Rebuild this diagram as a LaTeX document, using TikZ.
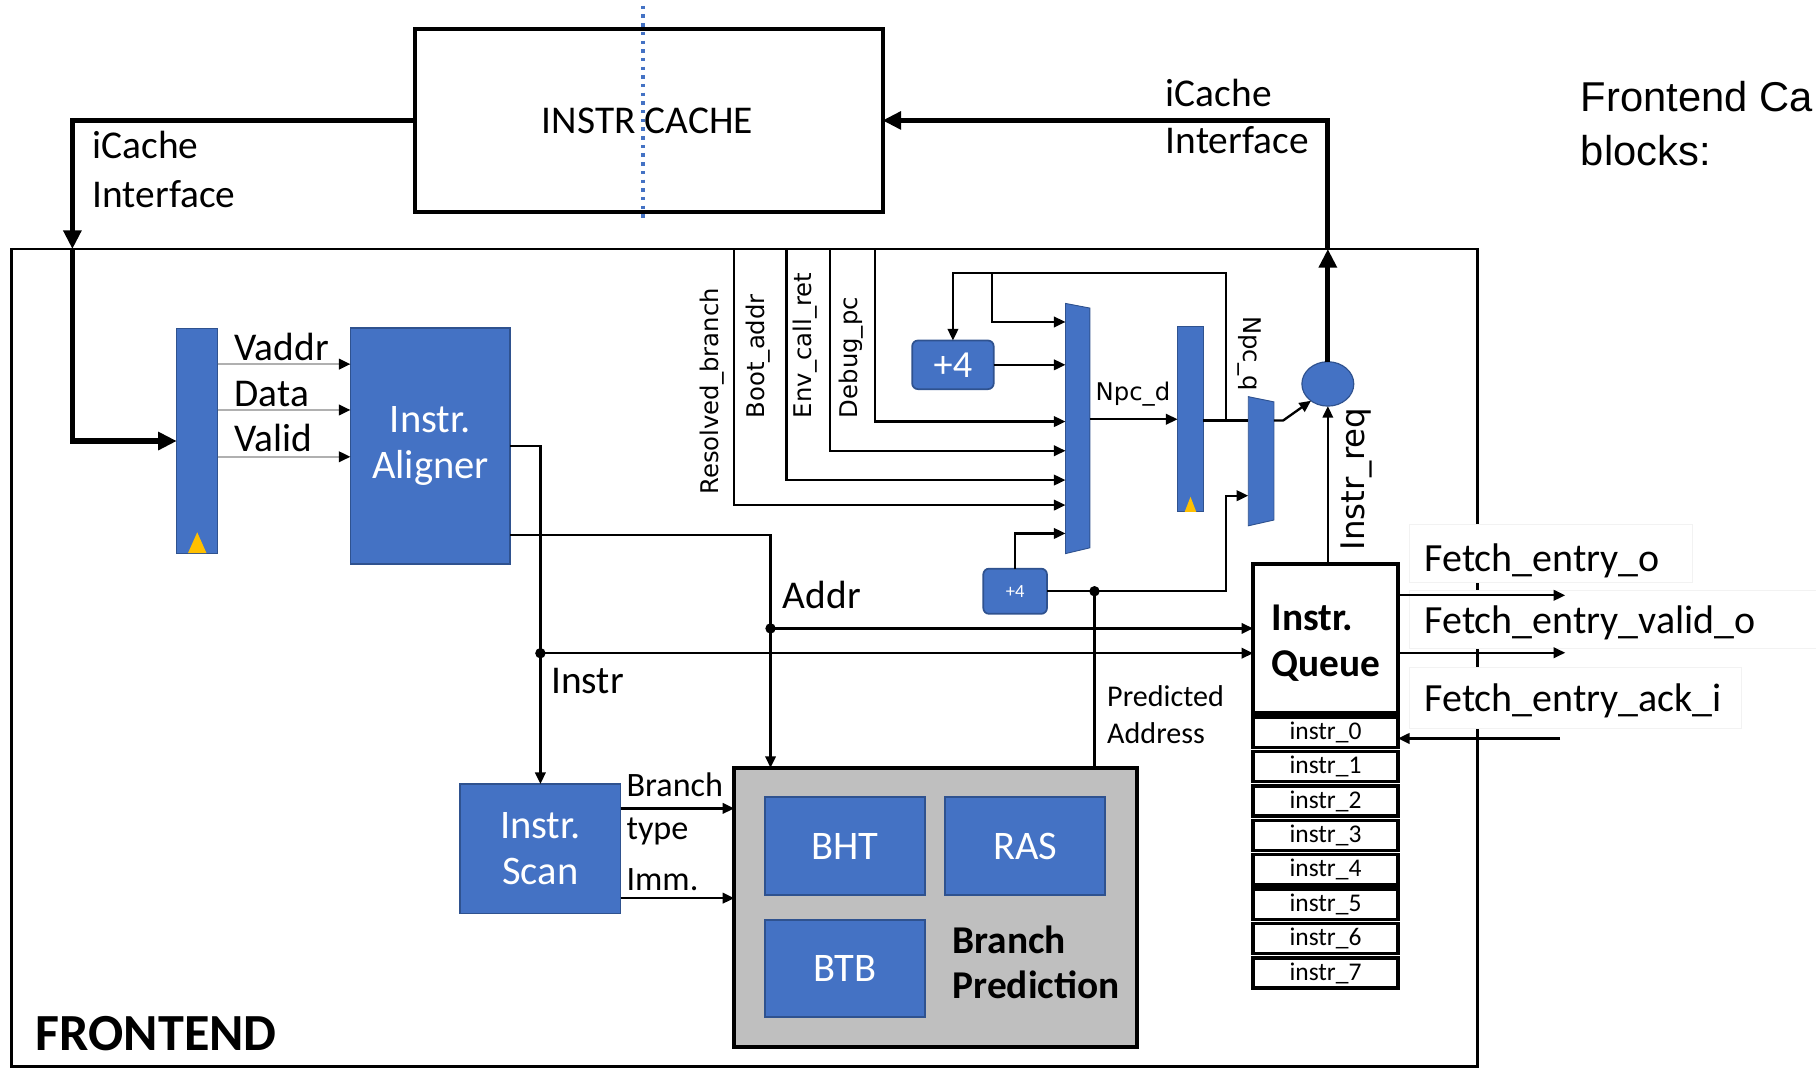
\documentclass[tikz,border=0pt]{standalone}
\usepackage{fontspec}
\setmainfont{Carlito}
\newfontfamily\dvsans{DejaVu Sans}
\newfontfamily\arsans{Liberation Sans}
\usetikzlibrary{arrows.meta,shapes.geometric}
\newcommand\fsz[2]{\fontsize{#1}{#2}\selectfont}
\definecolor{blk}{HTML}{4472C4}
\definecolor{blkedge}{HTML}{2F528F}
\definecolor{clk}{HTML}{FFC000}
\definecolor{bpgray}{HTML}{BFBFBF}
\definecolor{wiregray}{HTML}{B0B0B0}

\begin{document}
\begin{tikzpicture}[x=1pt,y=-1pt,
  every node/.style={inner sep=0pt,outer sep=0pt},
  wire/.style={line width=2pt},
  arr/.style={wire,-{Triangle[length=10pt,width=9pt]}},
  greyarr/.style={line width=2pt,draw=wiregray,-{Triangle[length=10pt,width=9pt,color=black]}},
  bus/.style={line width=4.5pt,-{Triangle[length=16pt,width=15pt]}},
  bluebox/.style={draw=blkedge,line width=1.5pt,fill=blk,text=white,align=center,font=\fsz{35}{40}},
  regbar/.style={draw=blkedge,line width=1pt,fill=blk},
  muxbody/.style={fill=blk,draw=blkedge,line width=0.8pt},
  txt/.style={anchor=base west,font=\fsz{34}{40}},
  sig/.style={font=\dvsans\fsz{21}{24}},
  jdot/.style={circle,fill=black,minimum size=9pt},
  slot/.style={draw,line width=3pt,minimum width=125pt,minimum height=26pt,font=\fsz{22}{24}},
  tagbox/.style={fill=white,draw=black!5,line width=1pt,anchor=north west}
]
\useasboundingbox (0,0) rectangle (1568,925);

% ---------------- instruction cache ----------------
\node[draw,line width=3.5pt,minimum width=404pt,minimum height=158pt] (cache) at (560,104) {};
\node[anchor=base,font=\fsz{34}{40}] (cachelbl) at (559,115.5) {INSTR CACHE};
\coordinate (cutT) at (555,5);
\coordinate (cutB) at (555,192);
\draw[blk,line width=3pt,dash pattern=on 3pt off 4.5pt] (cutT) -- (cutB);

% side note
\node[anchor=base west,font=\arsans\fsz{36}{44}] (note1) at (1365,96.5) {Frontend Ca};
\node[anchor=base west,font=\arsans\fsz{36}{44}] (note2) at (1365,142.5) {blocks:};

% ---------------- frontend frame ----------------
\node[draw,line width=2.2pt,minimum width=1265.5pt,minimum height=706pt] (fe) at (642.75,568) {};
\node[anchor=base west,font=\bfseries\fsz{45}{50}] (felbl) at (31,906.7) {FRONTEND};

% output tags (white panels over the frame edge)
\node[tagbox,minimum width=244pt,minimum height=50pt] (tag1) at (1217,453) {};
\node[tagbox,minimum width=360pt,minimum height=50pt] (tag2) at (1217,510) {};
\node[tagbox,minimum width=287pt,minimum height=53pt] (tag3) at (1217,576) {};
\node[txt,font=\fsz{34.5}{40}] (fo) at (1230,493.6) {Fetch\_entry\_o};
\node[txt,font=\fsz{34.5}{40}] (fv) at (1230,547) {Fetch\_entry\_valid\_o};
\node[txt,font=\fsz{34.5}{40}] (fa) at (1230,614.6) {Fetch\_entry\_ack\_i};

% iCache interface labels
\node[txt] (ifl1) at (80,137) {iCache};
\node[txt] (ifl2) at (80,179) {Interface};
\node[txt] (ifr1) at (1006.7,92) {iCache};
\node[txt] (ifr2) at (1006.7,132.5) {Interface};

% ---------------- blocks ----------------
\node[regbar,minimum width=35.4pt,minimum height=193.6pt] (reg1) at (170.3,380.8) {};
\fill[clk] ([xshift=-8pt]reg1.south) -- ([yshift=18pt]reg1.south) -- ([xshift=8pt]reg1.south) -- cycle;

\node[bluebox,minimum width=138pt,minimum height=204pt] (aligner) at (371.6,385) {Instr.\\Aligner};
\node[bluebox,minimum width=138.4pt,minimum height=111.7pt] (scan) at (466.6,732.8) {Instr.\\Scan};

\node[draw,line width=3.5pt,fill=bpgray,minimum width=348pt,minimum height=241pt] (bp) at (808,783.5) {};
\node[bluebox,minimum width=138pt,minimum height=85pt] (bht) at (729.5,730.5) {BHT};
\node[bluebox,minimum width=138pt,minimum height=85pt] (ras) at (885.2,730.5) {RAS};
\node[bluebox,minimum width=138pt,minimum height=83.5pt] (btb) at (729.5,836.2) {BTB};
\node[anchor=base west,font=\bfseries\fsz{34}{40}] (bpl1) at (822.5,823) {Branch};
\node[anchor=base west,font=\bfseries\fsz{34}{40}] (bpl2) at (822.5,862) {Prediction};

\node[bluebox,rounded corners=5pt,minimum width=70.4pt,minimum height=42pt,font=\fsz{33}{36}] (plus4a) at (822.8,315) {+4};
\node[bluebox,rounded corners=5pt,minimum width=55pt,minimum height=39pt,font=\fsz{16}{18}] (plus4b) at (876.5,510.5) {+4};

% next-pc multiplexer
\node[minimum width=21pt,minimum height=216pt] (mux1) at (930.5,370) {};
\draw[muxbody] (mux1.north west) -- ([yshift=-4pt]mux1.north east) -- ([yshift=5pt]mux1.south east) -- (mux1.south west) -- cycle;

% pc register
\node[regbar,minimum width=22.3pt,minimum height=160pt] (reg2) at (1027.9,362) {};
\fill[clk] ([xshift=-5pt]reg2.south) -- ([yshift=13pt]reg2.south) -- ([xshift=5pt]reg2.south) -- cycle;

% request multiplexer
\node[minimum width=22.2pt,minimum height=111.5pt] (mux2) at (1088.9,398.25) {};
\draw[muxbody] (mux2.north west) -- ([yshift=-4.5pt]mux2.north east) -- ([yshift=5pt]mux2.south east) -- (mux2.south west) -- cycle;

\node[ellipse,regbar,minimum width=44.8pt,minimum height=38.3pt] (circ) at (1146.5,331.5) {};

% instruction queue
\node[draw,line width=3.5pt,minimum width=125pt,minimum height=128.5pt] (queue) at (1144.5,551) {};
\node[anchor=base west,font=\bfseries\fsz{34}{40}] (ql1) at (1098,544) {Instr.};
\node[anchor=base west,font=\bfseries\fsz{34}{40}] (ql2) at (1098,584) {Queue};
\foreach \k in {0,...,7}{
  \node[slot] (slot\k) at (1144.5,{632.2+29.7*\k}) {instr\_\k};
}

% ---------------- level coordinates ----------------
\coordinate (yV) at (0,314.4);
\coordinate (yD) at (0,354);
\coordinate (yVl) at (0,394.4);
\coordinate (yAo) at (0,462);
\coordinate (yBr) at (0,698);
\coordinate (yIm) at (0,775.5);
\coordinate (m1a) at (0,278);
\coordinate (m1dbg) at (0,364);
\coordinate (m1env) at (0,389.2);
\coordinate (m1boot) at (0,414.5);
\coordinate (m1res) at (0,436.1);
\coordinate (m1p4) at (0,460.6);

% ---------------- connectors ----------------
% left iCache interface
\coordinate (lin) at (62.5,215);
\draw[bus] (cache.west) -| (lin);
\draw[bus] (lin) |- (reg1.west);

% right iCache interface
\coordinate (rin) at (1146.5,215);
\draw[bus] (circ.north) -- (rin);
\draw[bus] (rin) |- (cache.east);

% register to aligner
\draw[greyarr] (reg1.east |- yV) -- (aligner.west |- yV);
\draw[greyarr] (reg1.east |- yD) -- (aligner.west |- yD);
\draw[greyarr] (reg1.east |- yVl) -- (aligner.west |- yVl);
\node[txt] (lv) at (202.7,311) {Vaddr};
\node[txt] (ld) at (202.7,351) {Data};
\node[txt] (lvl) at (202.7,390) {Valid};

% aligner outputs
\node[jdot] (jI) at (466.6,564) {};
\node[jdot] (jA) at (665.3,542.6) {};
\draw[arr] (aligner.east) -| (scan.north);
\draw[arr] (aligner.east |- yAo) -| (jA.center |- bp.north);
\draw[arr] (jA.center) -- (queue.west |- jA.center);
\draw[arr] (jI.center) -- (queue.west |- jI.center);
\node[txt] (laddr) at (676,525) {Addr};
\node[txt] (linstr) at (476,599) {Instr};

% scan to branch prediction
\draw[arr] (scan.east |- yBr) -- (bp.west |- yBr);
\draw[arr] (scan.east |- yIm) -- (bp.west |- yIm);
\node[txt,font=\fsz{29.5}{34}] (lbr) at (541,688) {Branch};
\node[txt,font=\fsz{29.5}{34}] (lty) at (541,725) {type};
\node[txt,font=\fsz{29.5}{34}] (lim) at (541,768.6) {Imm.};

% predicted address and sequential +4
\node[jdot] (jP) at (945,510.5) {};
\draw[wire] (jP.center |- bp.north) -- (jP.center);
\node[txt,font=\fsz{26}{31}] (lp1) at (956,610) {Predicted};
\node[txt,font=\fsz{26}{31}] (lp2) at (956,642) {Address};
\coordinate (k2) at (1058.7,428);
\draw[arr] (plus4b.east) -| (k2) -- (mux2.west |- k2);
\draw[arr] (plus4b.north) |- (mux1.west |- m1p4);

% external next-pc sources
\coordinate (sres) at (633.5,215);
\coordinate (sboot) at (679,215);
\coordinate (senv) at (716.8,215);
\coordinate (sdbg) at (755.6,215);
\draw[arr] (sres) |- (mux1.west |- m1res);
\draw[arr] (sboot) |- (mux1.west |- m1boot);
\draw[arr] (senv) |- (mux1.west |- m1env);
\draw[arr] (sdbg) |- (mux1.west |- m1dbg);
\node[sig,rotate=90,anchor=west] (lres) at (614.5,427) {Resolved\_branch};
\node[sig,rotate=90,anchor=west] (lboot) at (654.6,361) {Boot\_addr};
\node[sig,rotate=90,anchor=west] (lenv) at (695,361) {Env\_call\_ret};
\node[sig,rotate=90,anchor=west] (ldbg) at (735,361) {Debug\_pc};

% pc feedback loop
\coordinate (jL) at (1058.7,363);
\coordinate (lpB) at (856.7,236);
\draw[wire] (reg2.east |- jL) -- (mux2.west |- jL);
\draw[arr] (jL) -- (jL |- lpB) -| (plus4a.north);
\draw[arr] (lpB) |- (mux1.west |- m1a);
\draw[arr] (plus4a.east) -- (mux1.west |- plus4a.east);

% mux to register
\draw[arr] (mux1.east |- reg2.west) -- (reg2.west);
\node[sig,anchor=west] (lnpcd) at (946,340) {Npc\_d};
\node[sig,rotate=-90,anchor=west] (lnpcq) at (1079,273) {Npc\_q};

% request path
\draw[arr] (mux2.east |- jL) -- ++(8,0) -- (circ.225);
\draw[arr] (circ.south |- queue.north) -- (circ.south);
\node[font=\dvsans\fsz{28}{32},rotate=90,anchor=west] (lreq) at (1171,475) {Instr\_req};

% queue interface
\coordinate (foEnd) at (1351.5,514);
\coordinate (fvEnd) at (1351.5,563.6);
\coordinate (faSrc) at (1347,637.6);
\draw[arr] (queue.east |- foEnd) -- (foEnd);
\draw[arr] (queue.east |- fvEnd) -- (fvEnd);
\draw[arr] (faSrc) -- (slot0.east |- faSrc);
\end{tikzpicture}
\end{document}
